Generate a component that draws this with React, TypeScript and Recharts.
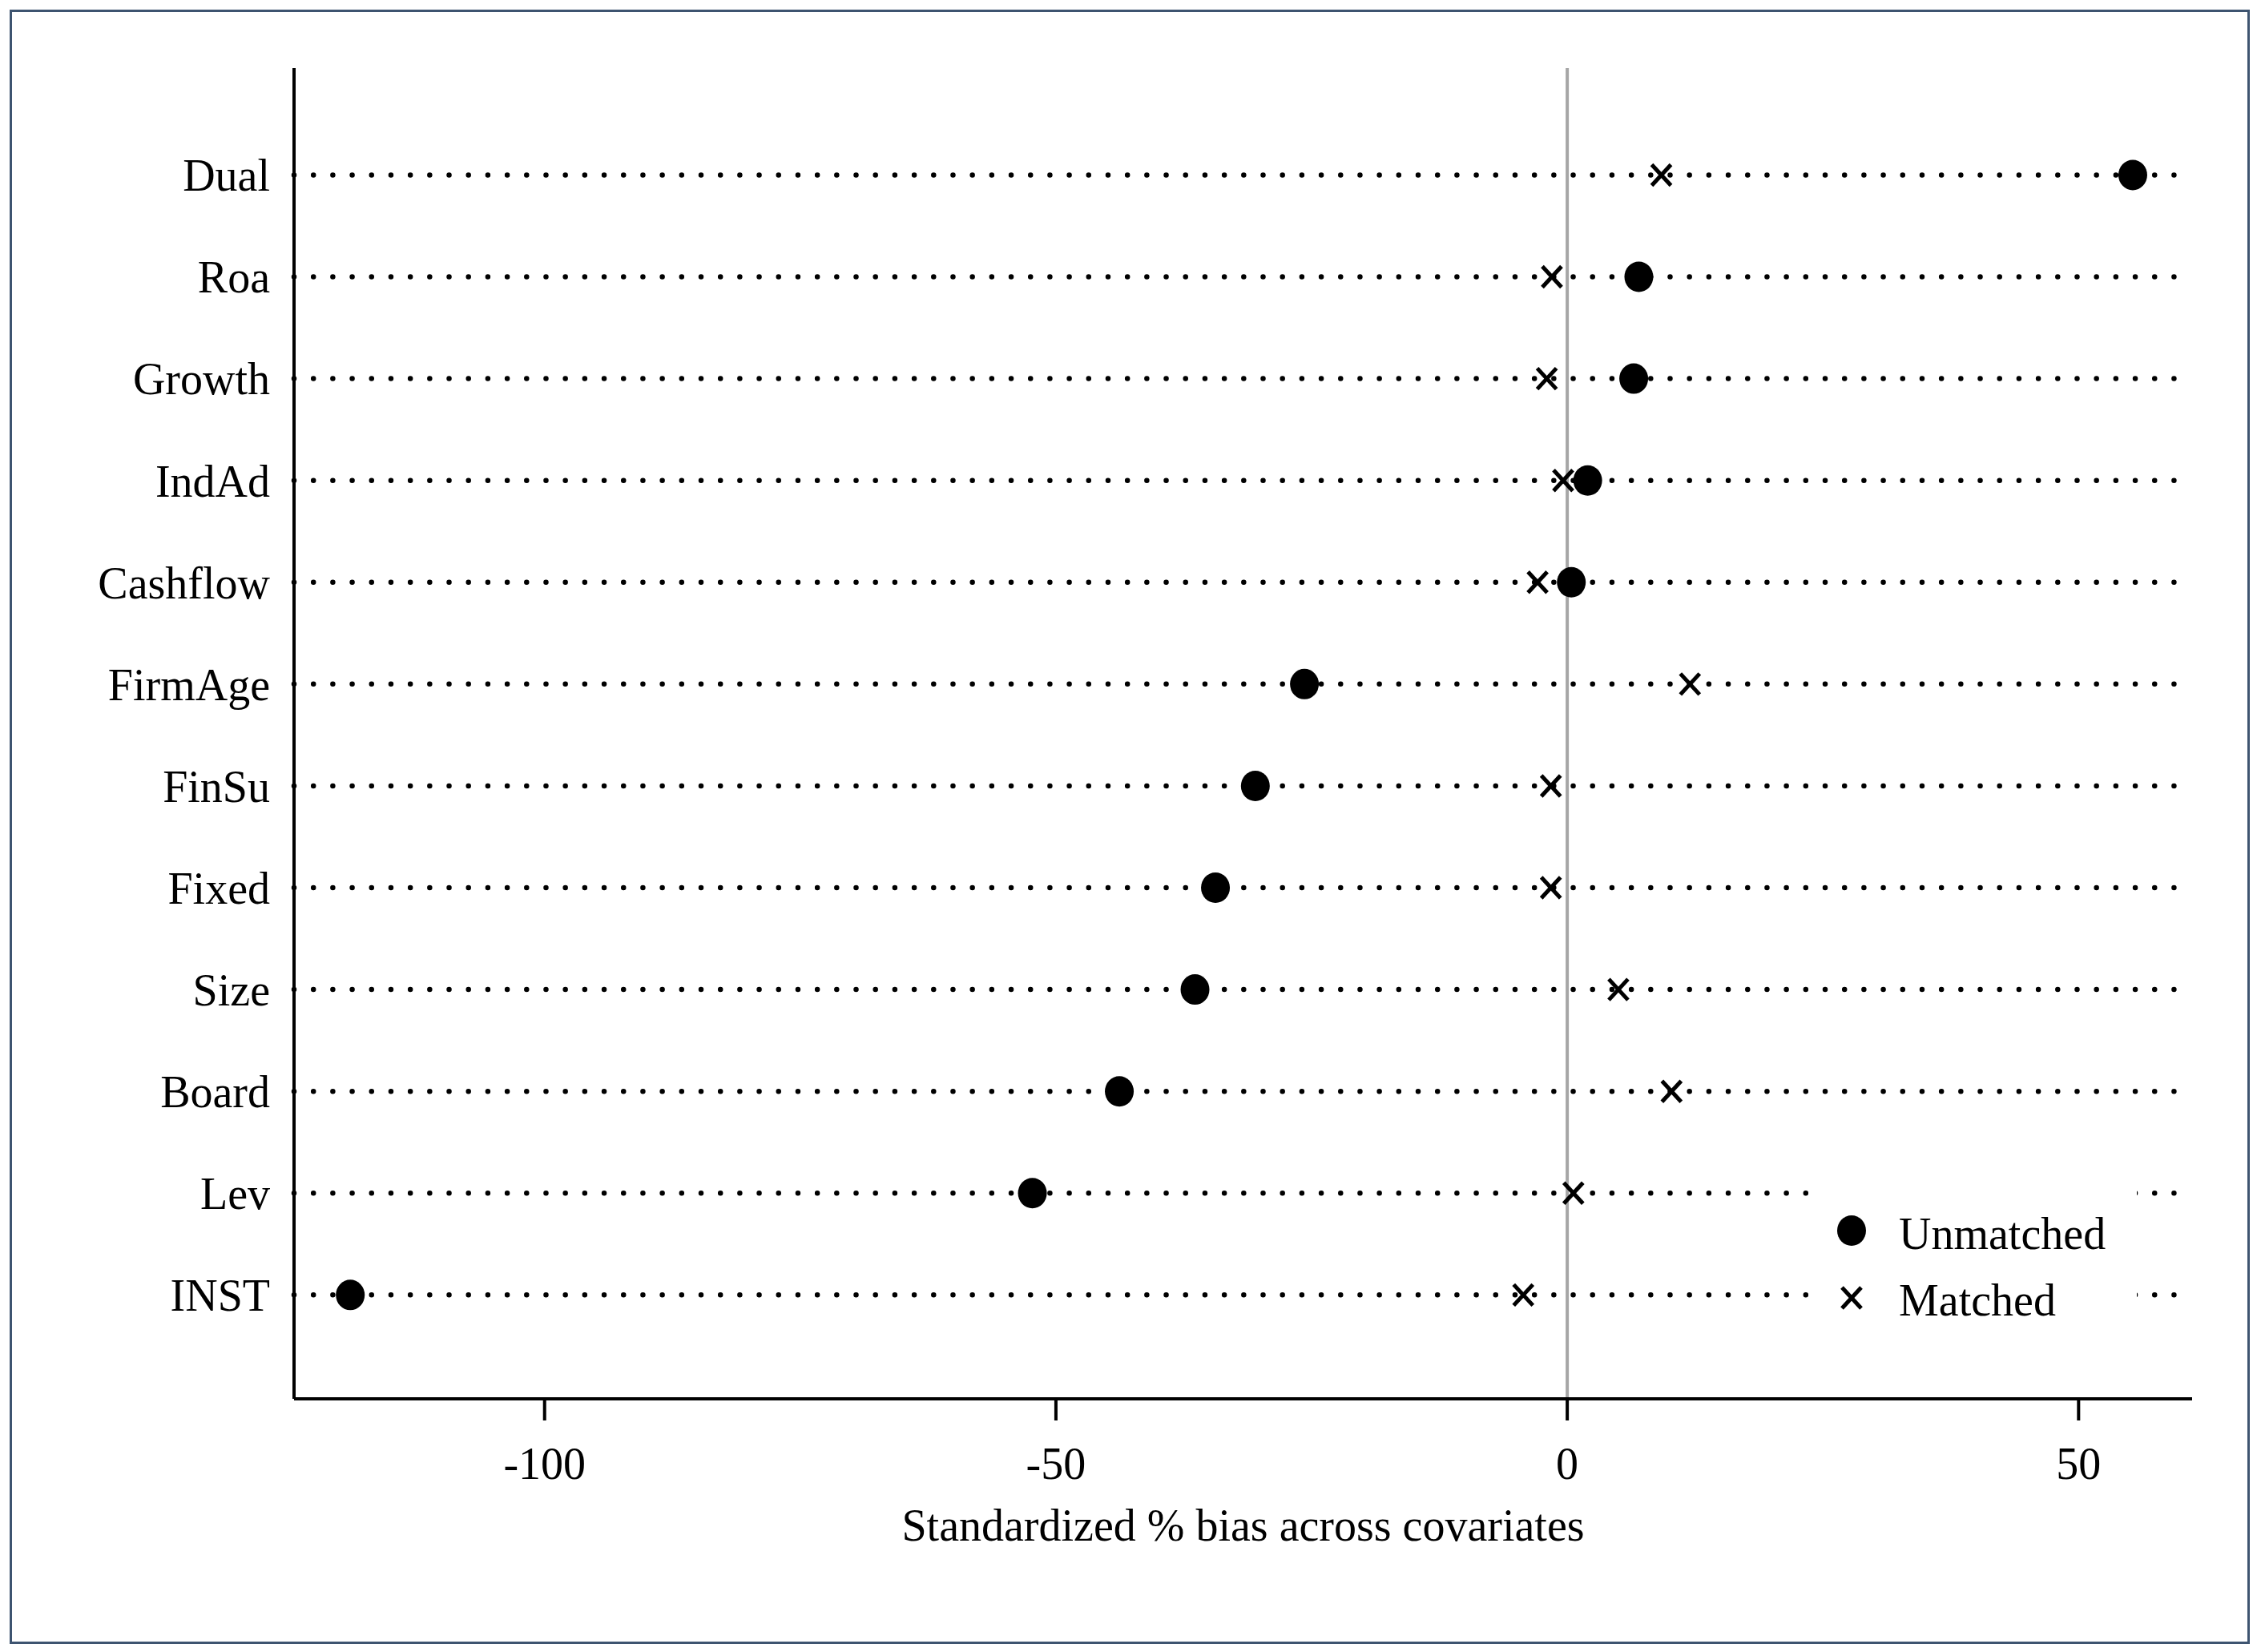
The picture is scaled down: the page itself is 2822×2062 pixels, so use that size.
import { ScatterChart, Scatter, XAxis, YAxis, ReferenceLine, Legend, Label } from 'recharts';

// covariates, bottom to top (y = 1 .. 12)
const covariates = ['INST', 'Lev', 'Board', 'Size', 'Fixed', 'FinSu', 'FirmAge', 'Cashflow', 'IndAd', 'Growth', 'Roa', 'Dual'];
const unmatchedBias = [-119.0, -52.3, -43.8, -36.4, -34.4, -30.5, -25.7, 0.4, 2.0, 6.5, 7.0, 55.3];
const matchedBias = [-4.3, 0.6, 10.2, 5.0, -1.6, -1.6, 12.0, -2.9, -0.4, -2.0, -1.5, 9.2];
const xTicks = [-100, -50, 0, 50];

const X_MIN = -124.5;
const X_MAX = 61.1;
const DOT_END = 59.6;
const FONT = '"Liberation Serif", "Times New Roman", serif';

const unmatchedData = covariates.map((name, i) => ({ name, y: i + 1, bias: unmatchedBias[i] }));
const matchedData = covariates.map((name, i) => ({ name, y: i + 1, bias: matchedBias[i] }));

function CircleMark(props: any) {
  const { cx, cy } = props;
  return <ellipse cx={cx} cy={cy} rx={18} ry={19} fill="#000" />;
}

function CrossMark(props: any) {
  const { cx, cy } = props;
  const w = 12;
  const h = 13;
  return (
    <g stroke="#000" strokeWidth={5}>
      <line x1={cx - w} y1={cy - h} x2={cx + w} y2={cy + h} />
      <line x1={cx - w} y1={cy + h} x2={cx + w} y2={cy - h} />
    </g>
  );
}

function LegendBox() {
  return (
    <svg width={404} height={240} style={{ display: 'block' }}>
      <ellipse cx={48} cy={96} rx={18} ry={19} fill="#000" />
      <text x={107} y={119} fontFamily={FONT} fontSize={56} fill="#000">Unmatched</text>
      <g stroke="#000" strokeWidth={5}>
        <line x1={36} y1={167} x2={60} y2={193} />
        <line x1={36} y1={193} x2={60} y2={167} />
      </g>
      <text x={107} y={202} fontFamily={FONT} fontSize={56} fill="#000">Matched</text>
    </svg>
  );
}

export default function App() {
  return (
    <div style={{ position: 'absolute', left: 0, top: 0, width: 2822, height: 2062, background: '#fff' }}>
      <div
        style={{
          position: 'absolute',
          left: 12,
          top: 12,
          width: 2796,
          height: 2040,
          border: '3px solid #3e5470',
          boxSizing: 'border-box',
        }}
      />
      <div style={{ position: 'absolute', left: 0, top: 0 }}>
        <ScatterChart width={2822} height={2062} margin={{ top: 85, right: 86, bottom: 116, left: 67 }}>
          <XAxis
            type="number"
            dataKey="bias"
            domain={[X_MIN, X_MAX]}
            ticks={xTicks}
            allowDataOverflow
            height={200}
            axisLine={{ stroke: '#000', strokeWidth: 4 }}
            tickLine={{ stroke: '#000', strokeWidth: 4 }}
            tickSize={27}
            tickMargin={33}
            tick={{ fill: '#000', fontSize: 56, fontFamily: FONT }}
          >
            <Label
              value="Standardized % bias across covariates"
              position="insideBottom"
              offset={23}
              style={{ fill: '#000', fontSize: 56, fontFamily: FONT }}
            />
          </XAxis>
          <YAxis
            type="number"
            dataKey="y"
            domain={[-0.02, 13.05]}
            allowDataOverflow
            ticks={covariates.map((_, i) => i + 1)}
            tickFormatter={(v: number) => covariates[v - 1] ?? ''}
            width={300}
            axisLine={{ stroke: '#000', strokeWidth: 4 }}
            tickLine={false}
            tickSize={0}
            tickMargin={30}
            tick={{ fill: '#000', fontSize: 56, fontFamily: FONT }}
          />
          {covariates.map((name, i) => (
            <ReferenceLine
              key={name}
              segment={[{ x: X_MIN, y: i + 1 }, { x: DOT_END, y: i + 1 }]}
              stroke="#000"
              strokeWidth={6.5}
              strokeDasharray="0 24.19"
              strokeLinecap="round"
            />
          ))}
          <ReferenceLine x={0} stroke="#a6a6a6" strokeWidth={4} />
          <Scatter name="Unmatched" data={unmatchedData} shape={<CircleMark />} isAnimationActive={false} />
          <Scatter name="Matched" data={matchedData} shape={<CrossMark />} isAnimationActive={false} />
          <Legend
            layout="horizontal"
            verticalAlign="middle"
            align="center"
            content={() => <LegendBox />}
            wrapperStyle={{ left: 2263, top: 1440, width: 404, height: 240, background: '#fff' }}
          />
        </ScatterChart>
      </div>
    </div>
  );
}
